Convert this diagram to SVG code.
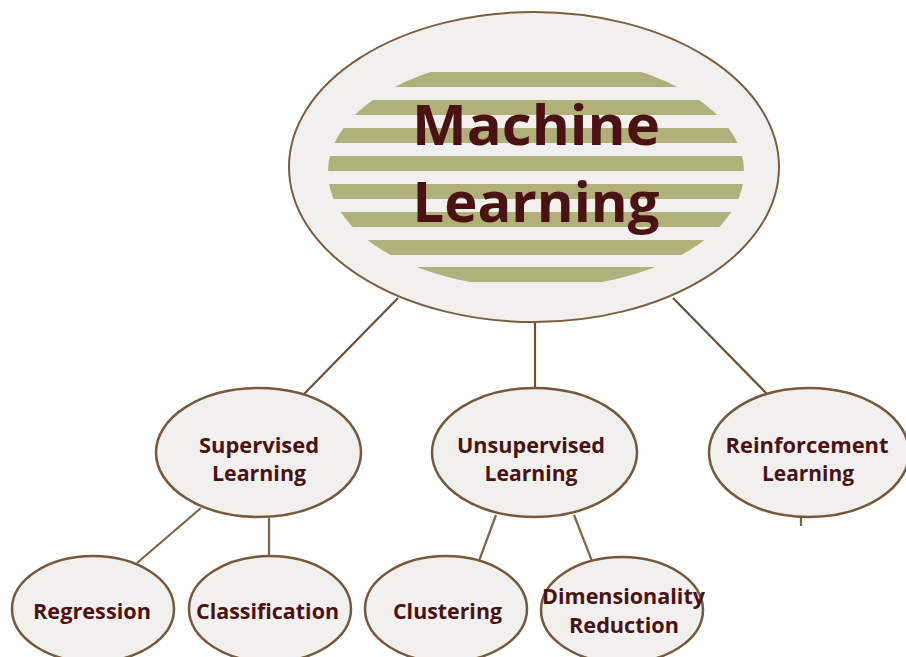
<svg xmlns="http://www.w3.org/2000/svg" width="906" height="657" viewBox="0 0 906 657">
<style>
.node{fill:#f1f0ef;stroke:#76593a;stroke-width:2.5}
.main{fill:#f1f0ef;stroke:#7a5e3e;stroke-width:2}
.conn{stroke:#7e6844;stroke-width:2.2;fill:none}
.conn.top{stroke:#6e4f32}
.t{font-family:"Open Sans","DejaVu Sans",sans-serif;font-weight:bold;fill:#4a1212;text-anchor:middle}
.big{font-size:56px}
.mid{font-size:22px}
.sm{font-size:21px}
.stripe{fill:#b1b07a}
</style>
<defs>
<clipPath id="inner"><ellipse cx="536" cy="172" rx="208" ry="116"/></clipPath>
</defs>
<rect width="906" height="657" fill="#ffffff"/>
<g id="connectors">
<line class="conn top" x1="398" y1="298" x2="304" y2="394"/>
<line class="conn top" x1="535" y1="322" x2="535" y2="389"/>
<line class="conn top" x1="673" y1="298" x2="767" y2="394"/>
<line class="conn" x1="201" y1="508" x2="137" y2="563"/>
<line class="conn" x1="269" y1="517" x2="269" y2="557"/>
<line class="conn" x1="496" y1="515" x2="479" y2="561"/>
<line class="conn" x1="574" y1="515" x2="592" y2="561"/>
<line class="conn" x1="801" y1="517" x2="801" y2="526"/>
</g>
<g id="machine-learning">
<ellipse class="main" cx="534" cy="167" rx="245" ry="155"/>
<g clip-path="url(#inner)">
<rect class="stripe" x="320" y="72" width="430" height="15"/>
<rect class="stripe" x="320" y="100" width="430" height="15"/>
<rect class="stripe" x="320" y="128" width="430" height="15"/>
<rect class="stripe" x="320" y="156" width="430" height="15"/>
<rect class="stripe" x="320" y="184" width="430" height="15"/>
<rect class="stripe" x="320" y="212" width="430" height="15"/>
<rect class="stripe" x="320" y="240" width="430" height="15"/>
<rect class="stripe" x="320" y="267" width="430" height="15"/>
</g>
<text class="t big" x="536" y="145" textLength="248" lengthAdjust="spacingAndGlyphs">Machine</text>
<text class="t big" x="536" y="222" textLength="247" lengthAdjust="spacingAndGlyphs">Learning</text>
</g>
<g id="supervised">
<ellipse class="node" cx="258.5" cy="452.5" rx="102.5" ry="64.5"/>
<text class="t mid" x="259" y="453" textLength="120" lengthAdjust="spacingAndGlyphs">Supervised</text>
<text class="t mid" x="259" y="481" textLength="94" lengthAdjust="spacingAndGlyphs">Learning</text>
</g>
<g id="unsupervised">
<ellipse class="node" cx="534.5" cy="452.5" rx="102.5" ry="64.5"/>
<text class="t mid" x="531" y="453" textLength="148" lengthAdjust="spacingAndGlyphs">Unsupervised</text>
<text class="t mid" x="531" y="481" textLength="93" lengthAdjust="spacingAndGlyphs">Learning</text>
</g>
<g id="reinforcement">
<ellipse class="node" cx="809" cy="452.5" rx="100" ry="64.5"/>
<text class="t mid" x="807" y="453" textLength="163" lengthAdjust="spacingAndGlyphs">Reinforcement</text>
<text class="t mid" x="808" y="481" textLength="92" lengthAdjust="spacingAndGlyphs">Learning</text>
</g>
<g id="regression">
<ellipse class="node" cx="93" cy="609" rx="81" ry="53"/>
<text class="t sm" x="92" y="619" textLength="118" lengthAdjust="spacingAndGlyphs">Regression</text>
</g>
<g id="classification">
<ellipse class="node" cx="270" cy="609" rx="81" ry="53"/>
<text class="t sm" x="267.5" y="619" textLength="143" lengthAdjust="spacingAndGlyphs">Classification</text>
</g>
<g id="clustering">
<ellipse class="node" cx="446" cy="609" rx="81" ry="53"/>
<text class="t sm" x="447.5" y="619" textLength="109" lengthAdjust="spacingAndGlyphs">Clustering</text>
</g>
<g id="dimensionality">
<ellipse class="node" cx="622" cy="610" rx="81" ry="53"/>
<text class="t sm" x="623.5" y="604" textLength="163" lengthAdjust="spacingAndGlyphs">Dimensionality</text>
<text class="t sm" x="624" y="633" textLength="110" lengthAdjust="spacingAndGlyphs">Reduction</text>
</g>
</svg>
